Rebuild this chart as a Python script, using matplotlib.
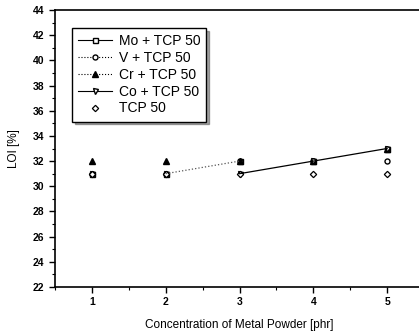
import matplotlib
matplotlib.use("Agg")
import matplotlib.pyplot as plt
import matplotlib.lines as mlines
import numpy as np

plt.rcParams['font.family'] = ['Liberation Sans', 'DejaVu Sans']

# data
conc = [1, 2, 3, 4, 5]
mo = [31, 31, 32, 32, 33]
v = [31, 31, 32, 32, 32]
cr = [32, 32, 32, 32, 33]
co = [31, 31, 31, 32, 33]
tcp = [31, 31, 31, 31, 31]
# only parts of the connecting lines survive in the scan
v_line = [np.nan, 31, 32, np.nan, np.nan]
co_line = [np.nan, np.nan, 31, 32, 33]

labels = ['Mo + TCP 50', 'V + TCP 50', 'Cr + TCP 50', 'Co + TCP 50', 'TCP 50']

fig = plt.figure(figsize=(4.19, 3.33), dpi=100)
ax = fig.add_axes([55/419, 1-287/333, 369/419, 277/333])

mk = dict(mfc='white', mec='black', mew=1.0, ms=3.6, color='black')
mk_cr = dict(mfc='black', mec='black', ms=3.8, color='black')
mk_tcp = dict(mfc='white', mec='black', mew=0.9, ms=3.2)

ax.plot(conc, mo, marker='s', ls='none', **mk)
ax.plot(conc, v, marker='o', ls='none', **mk)
ax.plot(conc, cr, marker='^', ls='none', **mk_cr)
ax.plot(conc, co, marker='v', ls='none', **mk)
ax.plot(conc, tcp, marker='D', ls='none', **mk_tcp)
ax.plot(conc, v_line, ls=':', lw=0.9, color='#555555')
ax.plot(conc, co_line, ls='-', lw=0.9, color='black')

ax.set_xlim(0.5, 5.5)
ax.set_ylim(22, 44)
ax.set_xticks(conc)
ax.set_xticks(np.arange(0.5, 5.6, 0.5), minor=True)
ax.set_yticks(np.arange(22, 45, 2))
ax.set_yticks(np.arange(22, 45, 1), minor=True)
ax.tick_params(direction='out', length=4, width=1, labelsize=7.5)
ax.tick_params(which='minor', direction='out', length=2, width=0.8)
for lab in ax.get_xticklabels() + ax.get_yticklabels():
    lab.set_fontweight('bold')
for s in ax.spines.values():
    s.set_linewidth(1.2)

ax.set_xlabel('Concentration of Metal Powder [phr]', fontsize=8.5, labelpad=8)
ax.set_ylabel('LOI [%]', fontsize=8.5, labelpad=9)

hl = [mlines.Line2D([], [], marker='s', ls='-', lw=0.8, **mk),
      mlines.Line2D([], [], marker='o', ls=':', lw=0.8, **mk),
      mlines.Line2D([], [], marker='^', ls=':', lw=0.8, **mk_cr),
      mlines.Line2D([], [], marker='v', ls='-', lw=0.8, **mk),
      mlines.Line2D([], [], marker='D', ls='none', **mk_tcp)]
leg = ax.legend(hl, labels, loc='upper left', bbox_to_anchor=(0.046, 0.935),
                borderaxespad=0, fontsize=10, frameon=True, fancybox=False,
                shadow=True, handlelength=2.4, handletextpad=0.5,
                labelspacing=0.2, borderpad=0.45)
leg.get_frame().set_edgecolor('black')
leg.get_frame().set_linewidth(1.0)

plt.savefig('out.png', dpi=100)
